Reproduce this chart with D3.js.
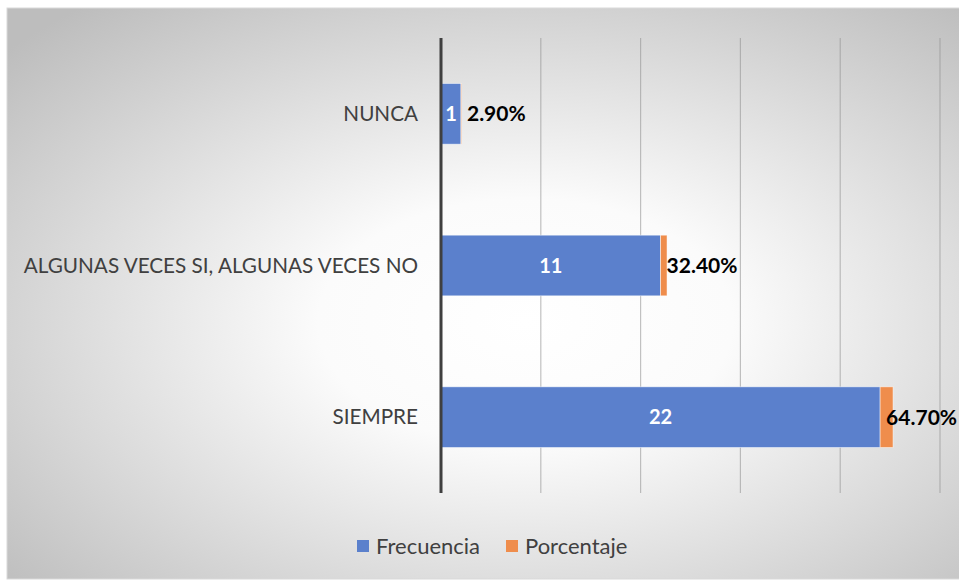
<!DOCTYPE html>
<html>
<head>
<meta charset="utf-8">
<script src="https://cdn.jsdelivr.net/npm/d3@7"></script>
<style>
  body { margin: 0; background: #fff; }
  svg { display: block; font-family: Lato, "Noto Sans", sans-serif; }
</style>
</head>
<body>
<div id="chart"></div>
<script>
// data, top to bottom as shown
var categories = ["NUNCA", "ALGUNAS VECES SI, ALGUNAS VECES NO", "SIEMPRE"];
var frecuencia = [1, 11, 22];
var porcentaje = [0.029, 0.324, 0.647];
var porcentajeLabels = ["2.90%", "32.40%", "64.70%"];
var seriesNames = ["Frecuencia", "Porcentaje"];
var seriesColors = ["#5b80cc", "#ef8d4c"];
var xTicks = [0, 5, 10, 15, 20, 25];

var width = 959, height = 581;

var svg = d3.select("#chart").append("svg")
    .attr("width", width)
    .attr("height", height);

var defs = svg.append("defs");
var grad = defs.append("radialGradient")
    .attr("id", "bg")
    .attr("cx", 0.54).attr("cy", 0.55).attr("r", 0.72);
grad.append("stop").attr("offset", 0).attr("stop-color", "#ffffff");
grad.append("stop").attr("offset", 0.3).attr("stop-color", "#fbfbfb");
grad.append("stop").attr("offset", 1).attr("stop-color", "#bdbdbd");

// chart area background
svg.append("rect")
    .attr("x", 7).attr("y", 8)
    .attr("width", 960).attr("height", 571)
    .attr("fill", "url(#bg)")
    .attr("stroke", "#d9d9d9")
    .attr("stroke-width", 1);

var x = d3.scaleLinear().domain([0, 25]).range([441, 940]);
var y = d3.scaleBand().domain(categories).range([38, 493]).paddingInner(0.6).paddingOuter(0.3);

// gridlines
svg.append("g").selectAll("line")
    .data(xTicks.slice(1))
    .enter().append("line")
    .attr("x1", function(d){ return x(d); })
    .attr("x2", function(d){ return x(d); })
    .attr("y1", 38).attr("y2", 493)
    .attr("stroke", "#8f8f8f")
    .attr("stroke-opacity", 0.55)
    .attr("stroke-width", 1.2);

var rows = categories.map(function(c, i){
    return {cat: c, Frecuencia: frecuencia[i], Porcentaje: porcentaje[i], label: porcentajeLabels[i]};
});
var stacked = d3.stack().keys(seriesNames)(rows);

var layers = svg.append("g").selectAll("g")
    .data(stacked)
    .enter().append("g")
    .attr("fill", function(d, i){ return seriesColors[i]; });

layers.selectAll("rect")
    .data(function(d){ return d; })
    .enter().append("rect")
    .attr("x", function(d){ return x(d[0]); })
    .attr("y", function(d){ return y(d.data.cat); })
    .attr("width", function(d){ return x(d[1]) - x(d[0]); })
    .attr("height", y.bandwidth())
    .attr("stroke", "#ffffff")
    .attr("stroke-opacity", 0.6)
    .attr("stroke-width", 0.8);

// axis line
svg.append("line")
    .attr("x1", x(0)).attr("x2", x(0))
    .attr("y1", 38).attr("y2", 493)
    .attr("stroke", "#3f3f3f")
    .attr("stroke-width", 3);

// category labels
svg.append("g").selectAll("text")
    .data(categories)
    .enter().append("text")
    .attr("x", 418)
    .attr("y", function(d){ return y(d) + y.bandwidth() / 2; })
    .attr("dy", "0.35em")
    .attr("text-anchor", "end")
    .attr("fill", "#404040")
    .style("font-size", "20.7px")
    .text(function(d){ return d; });

// frequency labels
svg.append("g").selectAll("text")
    .data(stacked[0])
    .enter().append("text")
    .attr("x", function(d){ return (x(d[0]) + x(d[1])) / 2; })
    .attr("y", function(d){ return y(d.data.cat) + y.bandwidth() / 2; })
    .attr("dy", "0.36em")
    .attr("text-anchor", "middle")
    .attr("fill", "#ffffff")
    .style("font-size", "20px")
    .style("font-weight", "bold")
    .text(function(d){ return d.data.Frecuencia; });

// percentage labels, inside base
svg.append("g").selectAll("text")
    .data(stacked[1])
    .enter().append("text")
    .attr("x", function(d){ return x(d[0]) + 6; })
    .attr("y", function(d){ return y(d.data.cat) + y.bandwidth() / 2; })
    .attr("dy", "0.36em")
    .attr("fill", "#000000")
    .style("font-size", "21px")
    .style("font-weight", "bold")
    .text(function(d){ return d.data.label; });

// legend
var legend = svg.append("g");
var legendX = [357, 506];
seriesNames.forEach(function(name, i){
    legend.append("rect")
        .attr("x", legendX[i]).attr("y", 540)
        .attr("width", 12).attr("height", 12)
        .attr("fill", seriesColors[i]);
    legend.append("text")
        .attr("x", legendX[i] + 19).attr("y", 546)
        .attr("dy", "0.35em")
        .attr("fill", "#404040")
        .style("font-size", "22px")
        .text(name);
});
</script>
</body>
</html>
